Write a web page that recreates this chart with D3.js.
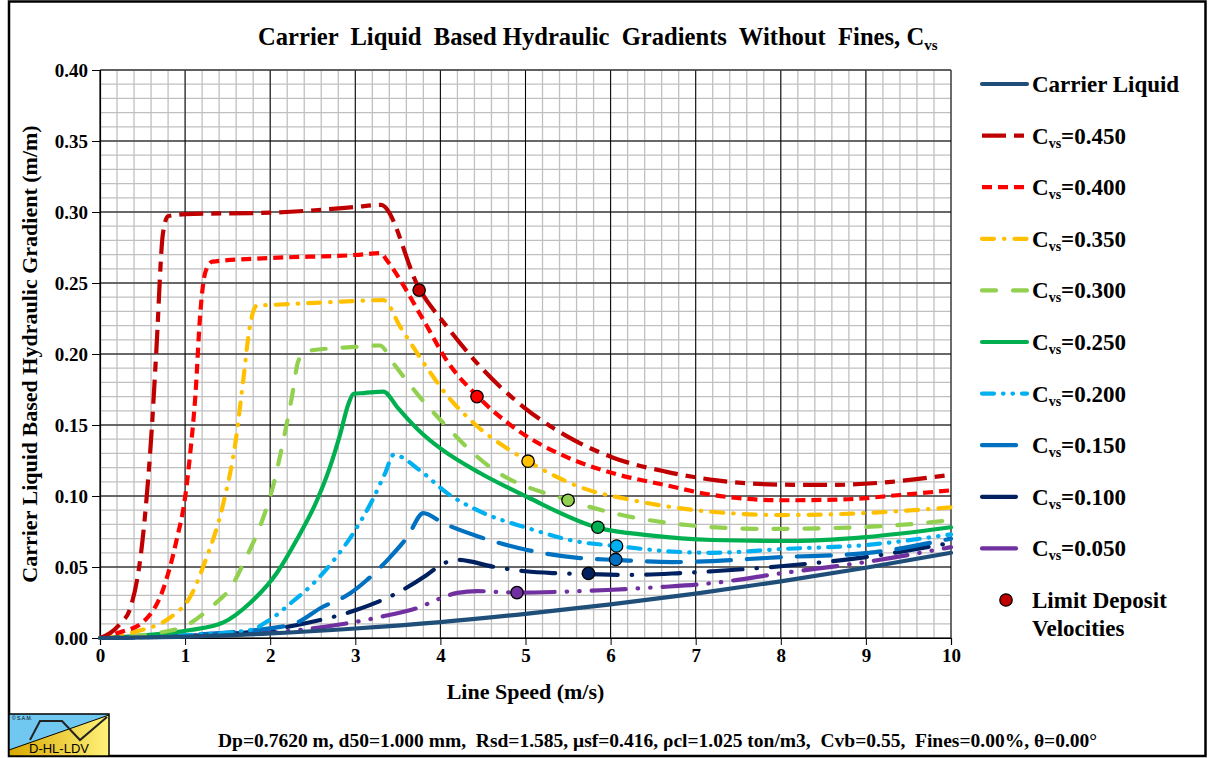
<!DOCTYPE html>
<html><head><meta charset="utf-8">
<script src="https://cdn.jsdelivr.net/npm/d3@7/dist/d3.min.js"></script>
<style>
body{margin:0;background:#fff;}
svg text{font-family:"Liberation Serif","Times New Roman",serif;font-weight:bold;fill:#000;white-space:pre;}
</style></head>
<body><svg id="c" width="1208" height="758"></svg>
<script>
// ---- data ----
const xTicks = [0,1,2,3,4,5,6,7,8,9,10];
const yTicks = [0.00,0.05,0.10,0.15,0.20,0.25,0.30,0.35,0.40];

const clV = [0,1,2,3,4,5,6,7,8,9,10];
const clI = [0,0.0009,0.0032,0.0067,0.0112,0.017,0.0237,0.0313,0.0399,0.0495,0.060];

const c45V = [0,0.12,0.25,0.35,0.5,0.607,0.66,0.74,0.8,0.9,1,2,3,3.3,3.76,4.08,4.47,4.97,5.49,6.03,6.66,7.25,8.0,8.6,9.3,10];
const c45I = [0,0.0035,0.011,0.02,0.069,0.146,0.2,0.285,0.297,0.298,0.2985,0.2995,0.3035,0.305,0.245,0.219,0.191,0.163,0.142,0.127,0.117,0.111,0.108,0.1078,0.110,0.115];

const c40V = [0,0.235,0.5,0.74,0.9,1.0,1.06,1.12,1.18,1.24,1.32,2,3,3.3,3.37,3.8,4.09,4.44,4.94,5.48,6.03,6.62,7.2,8.03,8.7,9.4,10];
const c40I = [0,0.004,0.011,0.034,0.069,0.099,0.13,0.17,0.23,0.258,0.265,0.2676,0.2697,0.271,0.266,0.224,0.194,0.170,0.145,0.1275,0.116,0.108,0.1007,0.097,0.0975,0.1007,0.104];

const c35V = [0,0.35,0.86,1.06,1.23,1.45,1.59,1.68,1.76,1.84,2,3,3.33,3.53,3.8,4.09,4.38,5.03,5.64,6.26,7.0,8.03,9.0,10];
const c35I = [0,0.0035,0.016,0.029,0.053,0.095,0.137,0.18,0.219,0.234,0.2345,0.2373,0.238,0.219,0.194,0.170,0.152,0.1245,0.1063,0.097,0.090,0.0866,0.088,0.092];

const c30V = [0,0.67,1.02,1.33,1.53,1.72,1.92,2.03,2.14,2.25,2.33,2.42,3,3.29,3.44,3.72,4.0,4.58,5.5,6.03,7.0,7.83,8.6,9.4,10];
const c30I = [0,0.0035,0.009,0.023,0.035,0.057,0.085,0.106,0.135,0.168,0.195,0.202,0.205,0.206,0.194,0.1725,0.1535,0.1205,0.097,0.088,0.079,0.0768,0.0774,0.0796,0.083];

const c25V = [0,1.06,1.45,1.76,2.08,2.31,2.55,2.7,2.82,2.92,2.98,3.1,3.33,3.5,3.75,4.0,4.47,5.02,5.86,6.43,7.2,8.03,9.0,10];
const c25I = [0,0.0056,0.011,0.0245,0.046,0.069,0.097,0.12,0.143,0.165,0.172,0.1725,0.1735,0.162,0.146,0.1335,0.116,0.0993,0.0775,0.0725,0.069,0.0683,0.0711,0.078];

const c20V = [0,1.0,1.76,2.0,2.25,2.5,2.75,3.0,3.2,3.35,3.45,3.76,4.08,4.47,5.02,5.64,6.07,6.62,7.2,8.03,9.0,10];
const c20I = [0,0.002,0.0056,0.013,0.025,0.038,0.055,0.076,0.097,0.116,0.129,0.118,0.102,0.089,0.0775,0.0676,0.0648,0.0613,0.060,0.0627,0.0655,0.073];

const c15V = [0,1,2.23,2.62,2.94,3.14,3.41,3.61,3.8,4.03,4.47,5.02,5.64,6.06,6.73,8.03,9.0,10];
const c15I = [0,0.002,0.009,0.022,0.0315,0.041,0.057,0.071,0.088,0.081,0.071,0.062,0.0563,0.055,0.0535,0.057,0.0598,0.07];

const c10V = [0,1.65,2.43,3.0,3.5,3.84,4.02,4.2,4.64,5.0,5.33,5.75,6.23,6.82,7.2,8.03,9.0,10];
const c10I = [0,0.0035,0.0106,0.0195,0.032,0.0444,0.052,0.055,0.050,0.047,0.0457,0.045,0.0444,0.0457,0.047,0.0507,0.057,0.067];

const c05V = [0,1,2.03,2.62,3.29,3.76,3.98,4.2,4.43,4.9,5.33,5.96,6.62,7.2,8.03,9.0,10];
const c05I = [0,0.0015,0.004,0.0077,0.0148,0.0218,0.0275,0.0318,0.033,0.032,0.0324,0.0338,0.036,0.0387,0.0458,0.0535,0.064];

const ldvV = [3.75,4.43,5.03,5.5,5.85,6.07,6.06,5.74,4.9];
const ldvI = [0.245,0.170,0.1245,0.097,0.078,0.0648,0.0553,0.0455,0.032];

const seriesNames = ["Carrier Liquid","0.450","0.400","0.350","0.300","0.250","0.200","0.150","0.100","0.050"];

// ---- styling ----
const series = [
 {v:clV,i:clI,color:"#1F4E79",dash:null,cap:"round"},
 {v:c45V,i:c45I,color:"#C00000",dash:"24,8,10,8",cap:"butt"},
 {v:c40V,i:c40I,color:"#FF0000",dash:"10,6",cap:"butt"},
 {v:c35V,i:c35I,color:"#FFC000",dash:"12,10,0.5,10",cap:"round"},
 {v:c30V,i:c30I,color:"#92D050",dash:"14,17",cap:"round"},
 {v:c25V,i:c25I,color:"#00B050",dash:null,cap:"round"},
 {v:c20V,i:c20I,color:"#00B0F0",dash:"12,9,0.5,9,0.5,9",cap:"round"},
 {v:c15V,i:c15I,color:"#0070C0",dash:"34,16",cap:"round"},
 {v:c10V,i:c10I,color:"#002060",dash:"34,14,0.5,14",cap:"round"},
 {v:c05V,i:c05I,color:"#7030A0",dash:"34,12,0.5,12,0.5,12",cap:"round"}
];
const ldvColors = ["#C00000","#FF0000","#FFC000","#92D050","#00B050","#00B0F0","#0070C0","#002060","#7030A0"];

const svg = d3.select("#c");
const L=100,R=951,T=70,B=638;
const x = d3.scaleLinear().domain([0,10]).range([L,R]);
const y = d3.scaleLinear().domain([0,0.4]).range([B,T]);

// outer frame
svg.append("rect").attr("x",9).attr("y",1.5).attr("width",1196.5).attr("height",754.5)
  .attr("fill","#fff").attr("stroke","#000").attr("stroke-width",2.5);

// minor grid
const g = svg.append("g");
d3.range(0,10.001,0.2).forEach(v=>{
  g.append("line").attr("x1",x(v)).attr("x2",x(v)).attr("y1",T).attr("y2",B)
   .attr("stroke","#C0C0C0").attr("stroke-width",1.3);
});
d3.range(0,0.4001,0.01).forEach(v=>{
  g.append("line").attr("x1",L).attr("x2",R).attr("y1",y(v)).attr("y2",y(v))
   .attr("stroke","#C0C0C0").attr("stroke-width",1.3);
});
// major grid
xTicks.forEach(v=>{
  g.append("line").attr("x1",x(v)).attr("x2",x(v)).attr("y1",T).attr("y2",B)
   .attr("stroke","#000").attr("stroke-width",1);
});
yTicks.forEach(v=>{
  g.append("line").attr("x1",L).attr("x2",R).attr("y1",y(v)).attr("y2",y(v))
   .attr("stroke","#000").attr("stroke-width",1);
});
g.append("line").attr("x1",L).attr("x2",R).attr("y1",T).attr("y2",T).attr("stroke","#595959").attr("stroke-width",1.2);

// axes
const xAxis = d3.axisBottom(x).tickValues(xTicks).tickSize(7).tickFormat(d3.format("d"));
const yAxis = d3.axisLeft(y).tickValues(yTicks).tickSize(8).tickFormat(d3.format(".2f"));
const gx = svg.append("g").attr("transform",`translate(0,${B})`).call(xAxis);
const gy = svg.append("g").attr("transform",`translate(${L},0)`).call(yAxis);
[gx,gy].forEach(a=>{
  a.select(".domain").attr("stroke","#000").attr("stroke-width",1.2);
  a.selectAll(".tick line").attr("stroke","#000").attr("stroke-width",1);
  a.selectAll("text").style("font-family",'"Liberation Serif",serif').style("font-weight","bold")
   .style("font-size","19px").attr("fill","#000");
});
gx.selectAll("text").attr("dy","0.95em").attr("y",6);
gy.selectAll("text").attr("x",-12).attr("dy","0.35em");

// lines
const line = d3.line().x(d=>x(d[0])).y(d=>y(d[1])).curve(d3.curveMonotoneX);
const lg = svg.append("g");
series.slice().reverse().forEach(s=>{
  const pts = s.v.map((v,k)=>[v,s.i[k]]);
  lg.append("path").attr("d",line(pts)).attr("fill","none")
   .attr("stroke",s.color).attr("stroke-width",4.2)
   .attr("stroke-dasharray",s.dash).attr("stroke-linecap",s.cap).attr("stroke-linejoin","round");
});
// LDV points
ldvV.forEach((v,k)=>{
  svg.append("circle").attr("cx",x(v)).attr("cy",y(ldvI[k])).attr("r",6.2)
   .attr("fill",ldvColors[k]).attr("stroke","#000").attr("stroke-width",1.3);
});

// title
const title = svg.append("text").attr("x",258).attr("y",45).style("font-size","24.6px");
title.append("tspan").text("Carrier  Liquid  Based Hydraulic  Gradients  Without  Fines, C");
title.append("tspan").text("vs").style("font-size","15px").attr("dy",5);

// axis titles
svg.append("text").attr("x",(L+R)/2).attr("y",699).attr("text-anchor","middle")
  .style("font-size","22px").text("Line Speed (m/s)");
svg.append("text").attr("transform",`translate(37,${(T+B)/2}) rotate(-90)`).attr("text-anchor","middle")
  .style("font-size","22px").text("Carrier Liquid Based Hydraulic Gradient (m/m)");

// legend
const lgx1=982, lgx2=1027, ly0=84, ldy=51.6;
series.forEach((s,k)=>{
  const yy = ly0 + k*ldy;
  svg.append("line").attr("x1",lgx1).attr("x2",lgx2).attr("y1",yy).attr("y2",yy)
   .attr("stroke",s.color).attr("stroke-width",4.2).attr("stroke-dasharray",s.dash)
   .attr("stroke-linecap",s.cap);
  const t = svg.append("text").attr("x",1032).attr("y",yy+8).style("font-size","23px");
  if(k===0){ t.text(seriesNames[0]); }
  else {
    t.append("tspan").text("C");
    t.append("tspan").text("vs").style("font-size","14px").attr("dy",4);
    t.append("tspan").text("="+seriesNames[k]).attr("dy",-4);
  }
});
svg.append("circle").attr("cx",1006).attr("cy",600).attr("r",6.2).attr("fill","#C00000")
  .attr("stroke","#000").attr("stroke-width",1.3);
svg.append("text").attr("x",1032).attr("y",608).style("font-size","23px").text("Limit Deposit");
svg.append("text").attr("x",1032).attr("y",636).style("font-size","23px").text("Velocities");

// bottom parameters text
svg.append("text").attr("x",218).attr("y",747).style("font-size","19.5px")
  .text("Dp=0.7620 m, d50=1.000 mm,  Rsd=1.585, μsf=0.416, ρcl=1.025 ton/m3,  Cvb=0.55,  Fines=0.00%, θ=0.00°");

// logo
const defs = svg.append("defs");
const gr = defs.append("linearGradient").attr("id","yg").attr("x1","0").attr("x2","1").attr("y1","0").attr("y2","0");
gr.append("stop").attr("offset","0").attr("stop-color","#D9A800");
gr.append("stop").attr("offset","1").attr("stop-color","#FFF27A");
const lx=9, lyT=714, lw=100, lh=42;
svg.append("rect").attr("x",lx).attr("y",lyT).attr("width",lw).attr("height",lh).attr("fill","url(#yg)");
svg.append("polygon").attr("points",`${lx},${lyT} ${lx+lw},${lyT} ${lx+lw},${lyT+1} ${lx},${lyT+36}`).attr("fill","#70C8F0");
svg.append("line").attr("x1",lx).attr("y1",lyT+36).attr("x2",lx+lw).attr("y2",lyT+1).attr("stroke","#000").attr("stroke-width",1);
svg.append("polyline").attr("points","30,740 40,721 62,721 80,740 107,717").attr("fill","none").attr("stroke","#222").attr("stroke-width",2);
svg.append("rect").attr("x",lx).attr("y",lyT).attr("width",lw).attr("height",lh).attr("fill","none").attr("stroke","#000").attr("stroke-width",1.5);
svg.append("text").attr("x",59).attr("y",753).attr("text-anchor","middle")
  .style("font-family",'"Liberation Sans",Arial,sans-serif').style("font-weight","normal").style("font-size","13px").text("D-HL-LDV");
svg.append("text").attr("x",12).attr("y",720)
  .style("font-family",'"Liberation Sans",Arial,sans-serif').style("font-weight","normal").style("font-size","5px").text("© S.A.M.");
</script></body></html>
